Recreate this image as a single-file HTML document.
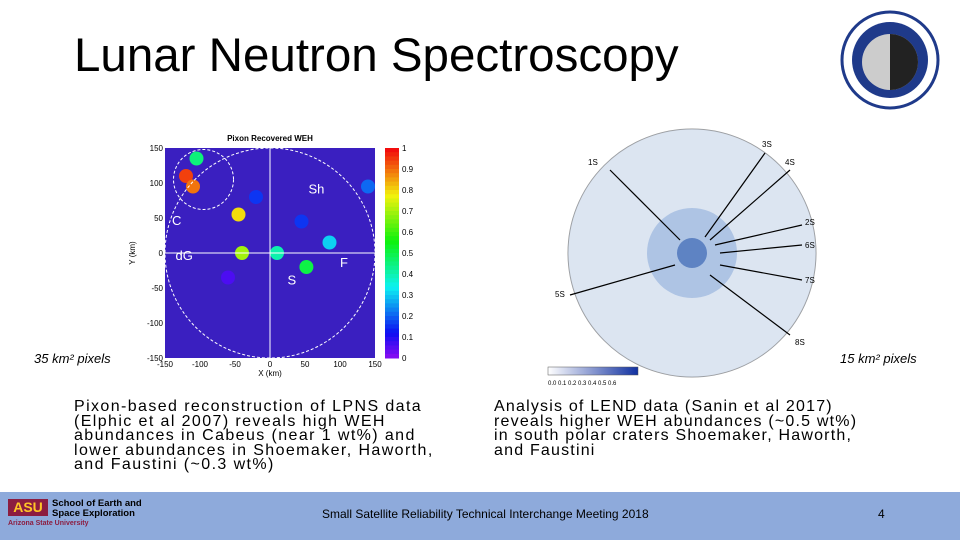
<!DOCTYPE html>
<html><head><meta charset="utf-8"><style>
body{margin:0;width:960px;height:540px;overflow:hidden;background:#fff;font-family:"Liberation Sans",sans-serif;position:relative}
.a{position:absolute}
.t{font-size:16px;line-height:14.5px;color:#000;white-space:nowrap;letter-spacing:1.4px}
</style></head><body>
<div class="a" style="left:74px;top:28px;font-size:47.5px;color:#000">Lunar Neutron Spectroscopy</div>
<svg class="a" style="left:840px;top:10px" width="100" height="100">
<circle cx="50" cy="50" r="48" fill="#fff" stroke="#1f3a8a" stroke-width="3"/>
<circle cx="50" cy="50" r="38" fill="#1f3a8a"/>
<circle cx="50" cy="52" r="28" fill="#ccc"/>
<path d="M50 24 A28 28 0 0 1 50 80 Z" fill="#222"/>
</svg>
<svg class="a" style="left:120px;top:130px" width="300" height="260" id="c1"></svg>
<div class="a" style="left:34px;top:351px;font-style:italic;font-size:13px">35 km² pixels</div>
<svg class="a" style="left:540px;top:125px" width="300" height="265">
<circle cx="152" cy="128" r="124" fill="#f2f4f7" stroke="#999"/>
<circle cx="152" cy="128" r="124" fill="#b5c8e6" opacity=".35"/>
<circle cx="152" cy="128" r="45" fill="#5a86cc" opacity=".35"/>
<circle cx="152" cy="128" r="15" fill="#1d4fa8" opacity=".55"/>
<g stroke="#000" stroke-width="1.2">
<line x1="70" y1="45" x2="140" y2="115"/><line x1="225" y1="28" x2="165" y2="112"/>
<line x1="250" y1="45" x2="170" y2="115"/><line x1="262" y1="100" x2="175" y2="120"/>
<line x1="262" y1="120" x2="180" y2="128"/><line x1="262" y1="155" x2="180" y2="140"/>
<line x1="250" y1="210" x2="170" y2="150"/><line x1="30" y1="170" x2="135" y2="140"/></g>
<g font-size="8" fill="#000"><text x="48" y="40">1S</text><text x="222" y="22">3S</text><text x="245" y="40">4S</text>
<text x="265" y="100">2S</text><text x="265" y="123">6S</text><text x="265" y="158">7S</text><text x="255" y="220">8S</text><text x="15" y="172">5S</text></g>
<defs><linearGradient id="g2"><stop offset="0" stop-color="#fff"/><stop offset="1" stop-color="#1030a0"/></linearGradient></defs>
<rect x="8" y="242" width="90" height="8" fill="url(#g2)" stroke="#555" stroke-width=".5"/>
<text x="8" y="260" font-size="6">0.0 0.1 0.2 0.3 0.4 0.5 0.6</text>
</svg>
<div class="a" style="left:840px;top:351px;font-style:italic;font-size:13px">15 km² pixels</div>
<div class="a t" style="left:74px;top:400px">Pixon-based reconstruction of LPNS data<br>(Elphic et al 2007) reveals high WEH<br>abundances in Cabeus (near 1 wt%) and<br>lower abundances in Shoemaker, Haworth,<br>and Faustini (~0.3 wt%)</div>
<div class="a t" style="left:494px;top:400px;letter-spacing:1.2px">Analysis of LEND data (Sanin et al 2017)<br>reveals higher WEH abundances (~0.5 wt%)<br>in south polar craters Shoemaker, Haworth,<br>and Faustini</div>
<div class="a" style="left:0;top:492px;width:960px;height:48px;background:#8eaadb"></div>
<div class="a" style="left:8px;top:499px;width:40px;height:17px;background:#8c1d40;color:#ffc627;font-weight:bold;font-size:14px;line-height:17px;text-align:center">ASU</div>
<div class="a" style="left:52px;top:499px;font-size:9.5px;font-weight:bold;line-height:10px">School of Earth and<br>Space Exploration</div>
<div class="a" style="left:8px;top:520px;font-size:7px;color:#8c1d40;font-weight:bold">Arizona State University</div>
<div class="a" style="left:322px;top:507px;font-size:12px">Small Satellite Reliability Technical Interchange Meeting 2018</div>
<div class="a" style="left:878px;top:507px;font-size:12px">4</div>
<script>
const xTicks=[-150,-100,-50,0,50,100,150];
const yTicks=[150,100,50,0,-50,-100,-150];
const cbTicks=[1,0.9,0.8,0.7,0.6,0.5,0.4,0.3,0.2,0.1,0];
const blobX=[-120,-105,-110,-45,-40,-20,45,85,10,52,-60,140];
const blobY=[110,135,95,55,0,80,45,15,0,-20,-35,95];
const blobV=[0.95,0.45,0.9,0.8,0.7,0.15,0.15,0.3,0.4,0.5,0.05,0.2];
const NS='http://www.w3.org/2000/svg';
const s=document.getElementById('c1');
const X0=45,X1=255,Y0=18,Y1=228;
const sx=v=>X0+(v+150)/300*(X1-X0), sy=v=>Y0+(150-v)/300*(Y1-Y0);
function el(t,a,p){const e=document.createElementNS(NS,t);for(const k in a)e.setAttribute(k,a[k]);(p||s).appendChild(e);return e;}
function col(v){return 'hsl('+(270-v*270)+',90%,50%)';}
const bg=el('rect',{x:X0,y:Y0,width:X1-X0,height:Y1-Y0,fill:'#3a1fc0'});


blobX.forEach((x,i)=>{const c=el('circle',{cx:sx(x),cy:sy(blobY[i]),r:7,fill:col(blobV[i])});

});
el('line',{x1:sx(0),y1:Y0,x2:sx(0),y2:Y1,stroke:'#fff'});
el('line',{x1:X0,y1:sy(0),x2:X1,y2:sy(0),stroke:'#fff'});
el('circle',{cx:sx(0),cy:sy(0),r:(X1-X0)/2,fill:'none',stroke:'#fff','stroke-dasharray':'3 2'});
el('circle',{cx:sx(-95),cy:sy(105),r:30,fill:'none',stroke:'#fff','stroke-dasharray':'3 2'});
[['Sh',55,85],['C',-140,40],['dG',-135,-10],['F',100,-20],['S',25,-45]].forEach(l=>{const t=el('text',{x:sx(l[1]),y:sy(l[2]),fill:'#fff','font-size':13});t.textContent=l[0];});
const tt=el('text',{x:150,y:11,'font-size':8,'text-anchor':'middle','font-weight':'bold'});tt.textContent='Pixon Recovered WEH';
xTicks.forEach(v=>{const t=el('text',{x:sx(v),y:Y1+9,'font-size':8,'text-anchor':'middle'});t.textContent=v;});
yTicks.forEach(v=>{const t=el('text',{x:X0-2,y:sy(v)+3,'font-size':8,'text-anchor':'end'});t.textContent=v;});
const xl=el('text',{x:150,y:Y1+18,'font-size':8,'text-anchor':'middle'});xl.textContent='X (km)';
const yl=el('text',{x:15,y:123,'font-size':8,'text-anchor':'middle',transform:'rotate(-90 15 123)'});yl.textContent='Y (km)';
for(let i=0;i<50;i++)el('rect',{x:265,y:Y0+i*(Y1-Y0)/50,width:14,height:(Y1-Y0)/50+0.5,fill:col(1-i/49)});
cbTicks.forEach(v=>{const t=el('text',{x:282,y:sy(-150+v*300)+3,'font-size':8});t.textContent=v;});
</script>
</body></html>
